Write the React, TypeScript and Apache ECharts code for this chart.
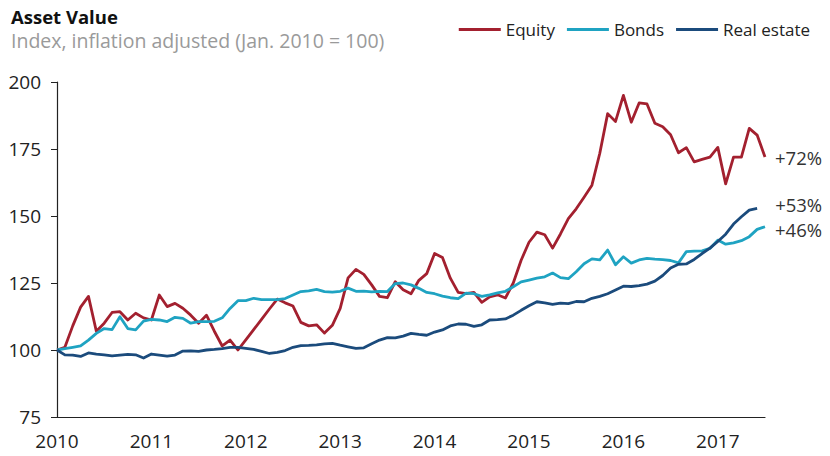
import React, { useEffect, useRef } from "react";
import * as echarts from "echarts";

const years = ["2010", "2011", "2012", "2013", "2014", "2015", "2016", "2017"];
const monthsInLastYear = 7;

const equity = [
  100, 101, 109, 116, 120, 107, 110, 114, 114.3, 111.2, 113.7, 112,
  111.2, 120.5, 116.2, 117.4, 115.6, 113, 110, 113, 107, 101.5, 103.7, 100,
  103.8, 107.6, 111.4, 115.3, 119, 117.6, 116.4, 110.3, 109, 109.4, 106.3, 109.2,
  115.5, 126.9, 130.1, 128.2, 124.3, 120, 119.5, 125.5, 122.5, 121, 126, 128.5,
  136, 134.5, 126.8, 121.5, 121, 121.5, 117.8, 119.8, 120.6, 119.4, 125, 133.5,
  140.2, 144, 143, 138, 143.3, 149, 152.7, 157, 161.5, 173.4, 188.2, 185.3,
  195, 185, 192.2, 191.8, 184.6, 183.3, 180.3, 173.6, 175.5, 170.2, 171.1, 172,
  175.6, 162, 172, 172, 182.7, 180.2, 172,
];

const bonds = [
  100, 100.5, 101, 101.5, 103.7, 106.2, 108, 107.6, 112.4, 108, 107.5, 110.8,
  111.4, 111.2, 110.6, 112.2, 111.8, 110, 110.6, 110.6, 110.7, 112, 115.5, 118.4,
  118.4, 119.3, 118.8, 118.8, 118.8, 119.2, 120.5, 121.8, 122.1, 122.6, 121.8, 121.6,
  121.9, 123.1, 121.9, 122, 121.7, 121.9, 121.8, 124.8, 125, 124.3, 123, 121.5,
  121, 120.1, 119.5, 119.2, 121.2, 121, 120, 120.6, 121.3, 121.9, 123.6, 125.4,
  126.1, 126.8, 127.3, 128.7, 127, 126.6, 129.2, 132.2, 134, 133.6, 137.3, 131.8,
  134.8, 132.4, 133.6, 134.2, 133.9, 133.7, 133.4, 132.5, 136.7, 136.9, 137, 137.9,
  141, 139.5, 140, 140.8, 142.3, 145, 146,
];

const realEstate = [
  100, 98.2, 98.1, 97.6, 98.9, 98.5, 98.2, 97.8, 98.1, 98.4, 98.2, 97,
  98.5, 98.1, 97.7, 98.1, 99.6, 99.7, 99.5, 100, 100.2, 100.5, 101, 101,
  100.6, 100.2, 99.5, 98.7, 99.1, 99.8, 101, 101.6, 101.7, 101.9, 102.3, 102.5,
  101.8, 101.2, 100.6, 100.8, 102.3, 103.7, 104.6, 104.5, 105.2, 106.2, 105.8, 105.5,
  106.7, 107.5, 109, 109.7, 109.6, 108.8, 109.4, 111.2, 111.3, 111.6, 113, 114.8,
  116.5, 118, 117.6, 117, 117.5, 117.3, 118.1, 118, 119.3, 120, 121, 122.4,
  123.8, 123.7, 124, 124.6, 125.7, 127.8, 130.6, 132, 132.1, 133.8, 136, 138,
  140.5, 143.2, 147, 149.7, 152.2, 152.8, null,
];

const endLabels = ["+72%", "+46%", "+53%"];
const yTicks = { min: 75, max: 200, interval: 25 };

const COLORS = { equity: "#a3202f", bonds: "#1fa3c2", realEstate: "#1b4b7c" };
const FONT = "'Open Sans', 'Noto Sans', sans-serif";

const categories: string[] = [];
years.forEach((y, i) => {
  const n = i === years.length - 1 ? monthsInLastYear : 12;
  for (let m = 1; m <= n; m++) categories.push(`${y}-${String(m).padStart(2, "0")}`);
});

export default function App() {
  const ref = useRef<HTMLDivElement>(null);

  useEffect(() => {
    if (!ref.current) return;
    const chart = echarts.init(ref.current, undefined, { renderer: "svg" });
    const mkSeries = (
      name: string,
      data: (number | null)[],
      color: string,
      label: string,
      dist: number,
      dy: number
    ) => ({
      name,
      type: "line",
      data,
      symbol: "none",
      lineStyle: { color, width: 2.8, join: "round" },
      itemStyle: { color },
      emphasis: { disabled: true },
      endLabel: {
        show: true,
        formatter: label,
        distance: dist,
        offset: [0, dy],
        color: "#333",
        fontSize: 18.5,
        lineHeight: 19,
        fontFamily: FONT,
      },
    });
    chart.setOption({
      animation: false,
      textStyle: { fontFamily: FONT },
      title: {
        text: "Asset Value",
        subtext: "Index, inflation adjusted (Jan. 2010 = 100)",
        left: 6,
        top: 2,
        itemGap: 5,
        textStyle: { fontSize: 18.5, lineHeight: 19, fontWeight: "bold", color: "#111", fontFamily: FONT },
        subtextStyle: { fontSize: 19.5, lineHeight: 19, color: "#9a9a9a", fontFamily: FONT },
      },
      legend: {
        right: 15,
        top: 16,
        itemWidth: 42,
        itemHeight: 3,
        itemGap: 12,
        icon: "rect",
        textStyle: { fontSize: 17, color: "#222", fontFamily: FONT },
        data: ["Equity", "Bonds", "Real estate"],
      },
      grid: { left: 57, right: 65, top: 82, bottom: 39 },
      xAxis: {
        type: "category",
        data: categories,
        boundaryGap: false,
        axisLine: { lineStyle: { color: "#222", width: 1.2 } },
        axisTick: { show: false },
        axisLabel: {
          interval: 11,
          formatter: (v: string) => v.slice(0, 4),
          color: "#222",
          fontSize: 19,
          margin: 14,
          fontFamily: FONT,
        },
        splitLine: { show: false },
      },
      yAxis: {
        type: "value",
        min: yTicks.min,
        max: yTicks.max,
        interval: yTicks.interval,
        axisLine: { show: true, lineStyle: { color: "#222", width: 1.2 } },
        axisTick: { show: true, length: 6, lineStyle: { color: "#222" } },
        axisLabel: { color: "#222", fontSize: 19, margin: 16, fontFamily: FONT },
        splitLine: { show: false },
      },
      series: [
        mkSeries("Equity", equity, COLORS.equity, endLabels[0], 10, 0),
        mkSeries("Bonds", bonds, COLORS.bonds, endLabels[1], 10, 3),
        mkSeries("Real estate", realEstate, COLORS.realEstate, endLabels[2], 18, -4),
      ],
    });
    return () => chart.dispose();
  }, []);

  return (
    <div
      ref={ref}
      style={{ position: "fixed", left: 0, top: 0, width: 830, height: 456, background: "#fff" }}
    />
  );
}
